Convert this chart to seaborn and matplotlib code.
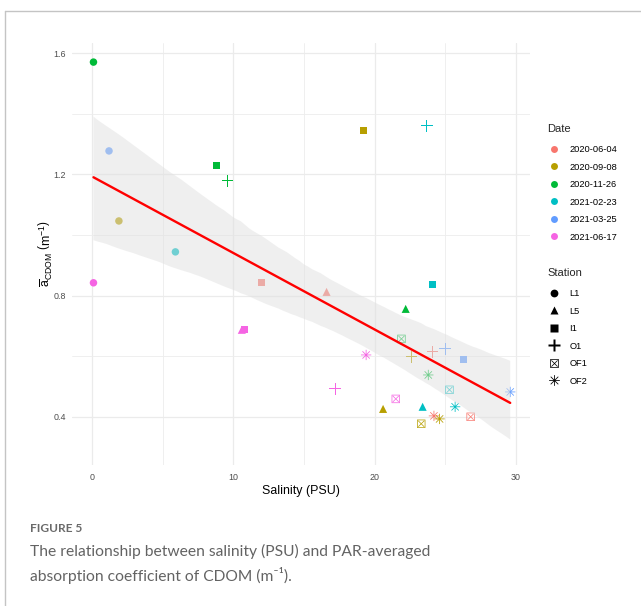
import numpy as np
import pandas as pd
import matplotlib
matplotlib.use("Agg")
import matplotlib.pyplot as plt
from matplotlib.path import Path
from matplotlib.markers import MarkerStyle
from matplotlib.transforms import Affine2D
from matplotlib.lines import Line2D
import seaborn as sns

# ---------------- data ----------------
dates = ["2020-06-04", "2020-09-08", "2020-11-26", "2021-02-23", "2021-03-25", "2021-06-17"]
date_colors = ["#F8766D", "#B79F00", "#00BA38", "#00BFC4", "#619CFF", "#F564E3"]
stations = ["L1", "L5", "I1", "O1", "OF1", "OF2"]

point_station = (["L1"] * 5 + ["I1"] * 6 + ["L5"] * 5 + ["O1"] * 6 + ["OF1"] * 5 + ["OF2"] * 6)
point_date = [
    # L1
    "2020-11-26", "2021-03-25", "2020-09-08", "2021-02-23", "2021-06-17",
    # I1
    "2020-11-26", "2020-09-08", "2021-02-23", "2020-06-04", "2021-03-25", "2021-06-17",
    # L5
    "2020-06-04", "2020-11-26", "2020-09-08", "2021-02-23", "2021-06-17",
    # O1
    "2020-11-26", "2021-02-23", "2020-06-04", "2021-03-25", "2020-09-08", "2021-06-17",
    # OF1
    "2020-11-26", "2021-02-23", "2021-06-17", "2020-09-08", "2020-06-04",
    # OF2
    "2021-06-17", "2020-11-26", "2021-03-25", "2021-02-23", "2020-06-04", "2020-09-08",
]
salinity = [
    0.1, 1.2, 1.9, 5.9, 0.1,
    8.8, 19.2, 24.1, 12.0, 26.3, 10.8,
    16.6, 22.2, 20.6, 23.4, 10.6,
    9.6, 23.7, 24.1, 25.0, 22.6, 17.2,
    21.9, 25.3, 21.5, 23.3, 26.8,
    19.4, 23.8, 29.6, 25.7, 24.2, 24.6,
]
acdom = [
    1.570, 1.277, 1.046, 0.944, 0.842,
    1.230, 1.343, 0.835, 0.842, 0.588, 0.687,
    0.812, 0.756, 0.426, 0.433, 0.687,
    1.178, 1.360, 0.614, 0.624, 0.598, 0.492,
    0.657, 0.489, 0.459, 0.377, 0.400,
    0.604, 0.538, 0.482, 0.433, 0.403, 0.393,
]

x_ticks = [0, 10, 20, 30]
y_ticks = [0.4, 0.8, 1.2, 1.6]

df = pd.DataFrame({"Salinity": salinity, "aCDOM": acdom,
                   "Date": point_date, "Station": point_station})

# ---------------- custom marker paths ----------------
def star_path(n, R, h, rot):
    verts = []
    step = 2 * np.pi / n
    r_in = h / np.sin(step / 2)
    for k in range(n):
        th = rot + k * step
        u = np.array([np.cos(th), np.sin(th)])
        nrm = np.array([-np.sin(th), np.cos(th)])
        verts.append(R * u - h * nrm)
        verts.append(R * u + h * nrm)
        tb = th + step / 2
        verts.append(r_in * np.array([np.cos(tb), np.sin(tb)]))
    return verts


def closed(verts):
    v = list(verts) + [verts[0]]
    codes = [Path.MOVETO] + [Path.LINETO] * (len(verts) - 1) + [Path.CLOSEPOLY]
    return v, codes


def plus_path(w=0.1):
    v = [(1, -w), (1, w), (w, w), (w, 1), (-w, 1), (-w, w), (-1, w), (-1, -w),
         (-w, -w), (-w, -1), (w, -1), (w, -w)]
    vv, cc = closed(v)
    return Path(vv, cc)


def asterisk_path(h=0.075):
    vv, cc = closed(star_path(8, 1.0, h, 0.0))
    return Path(vv, cc)


def boxed_x_path(t=0.17, h=0.085):
    outer = [(-1, -1), (1, -1), (1, 1), (-1, 1)]
    a = 1 - t
    inner = [(-a, -a), (-a, a), (a, a), (a, -a)]
    xs = star_path(4, 1.0, h, np.pi / 4)
    V, C = [], []
    for part in (outer, inner, xs):
        vv, cc = closed(part)
        V += [tuple(p) for p in vv]
        C += cc
    return Path(V, C)


def ms(marker, scale):
    return MarkerStyle(marker, transform=Affine2D().scale(scale))


marker_styles = [
    ms("o", 1.0),
    ms("^", 1.08),
    ms("s", 0.92),
    ms(plus_path(0.09), 1.55),
    ms(boxed_x_path(), 1.12),
    ms(asterisk_path(), 1.38),
]

# ---------------- figure ----------------
W, H = 641, 606
sns.set_style("white")
plt.rcParams["font.family"] = ["Liberation Sans", "DejaVu Sans"]
plt.rcParams["mathtext.fontset"] = "custom"
plt.rcParams["mathtext.rm"] = "Liberation Sans"
plt.rcParams["mathtext.it"] = "Liberation Sans:italic"
plt.rcParams["mathtext.bf"] = "Liberation Sans:bold"

fig = plt.figure(figsize=(W / 100, H / 100), dpi=100)
fig.patch.set_facecolor("white")

ax_l, ax_r, ax_t, ax_b = 72, 530, 43, 465
ax = fig.add_axes([ax_l / W, 1 - ax_b / H, (ax_r - ax_l) / W, (ax_b - ax_t) / H])
ax.set_facecolor("white")

sns.scatterplot(data=df, x="Salinity", y="aCDOM", hue="Date", style="Station",
                hue_order=dates, style_order=stations,
                palette=dict(zip(dates, date_colors)),
                markers=dict(zip(stations, marker_styles)),
                s=29, linewidth=0, legend=False, ax=ax, zorder=2)

sns.regplot(x=np.array(salinity), y=np.array(acdom), scatter=False, ci=95,
            n_boot=1000, seed=3, color="red", truncate=True,
            line_kws=dict(lw=1.7, zorder=4), ax=ax)

band = ax.collections[-1]
band.set_facecolor((224 / 255, 224 / 255, 224 / 255))
band.set_alpha(0.5)
band.set_edgecolor("none")
band.set_zorder(3)
ax.lines[-1].set_zorder(4)

ax.set_xlim(-1.42, 31.0)
ax.set_ylim(0.241, 1.633)
ax.set_xticks(x_ticks)
ax.set_xticklabels([str(t) for t in x_ticks])
ax.set_yticks(y_ticks)
ax.set_yticklabels([f"{t:.1f}" for t in y_ticks])
ax.set_xticks([5, 15, 25], minor=True)
ax.set_yticks([0.6, 1.0, 1.4], minor=True)
ax.set_axisbelow(True)
ax.grid(which="major", color="#ebebeb", lw=0.9)
ax.grid(which="minor", color="#ededed", lw=0.6)
for sp in ax.spines.values():
    sp.set_visible(False)
ax.tick_params(which="both", length=0, labelsize=6.4, labelcolor="#4d4d4d")
ax.tick_params(axis="x", pad=6)
ax.tick_params(axis="y", pad=4.5)

ax.set_xlabel("Salinity (PSU)", fontsize=8.9, color="black")
ax.xaxis.set_label_coords(0.5, -(491 - ax_b) / (ax_b - ax_t))
ax.xaxis.label.set_verticalalignment("center")
ax.set_ylabel(r"$\overline{\mathrm{a}}_{\mathrm{CDOM}}\ \left(\mathrm{m}^{-1}\right)$",
              fontsize=8.9, color="black")
ax.yaxis.set_label_coords(-(ax_l - 46) / (ax_r - ax_l), 0.5)
ax.yaxis.label.set_verticalalignment("center")

# ---------------- legends ----------------
date_handles = [Line2D([], [], ls="none", marker="o", ms=5.0, mfc=c, mec="none")
                for c in date_colors]
station_handles = [Line2D([], [], ls="none", marker=m, ms=5.6, mfc="black",
                          mec="none", color="black") for m in marker_styles]

leg_kw = dict(loc="upper left", frameon=False, fontsize=6.7, title_fontsize=8,
              alignment="left", handlelength=1.6, handletextpad=0.8,
              labelspacing=0.91, borderpad=0, borderaxespad=0)
leg1 = fig.legend(date_handles, dates, title="Date",
                  bbox_to_anchor=(547 / W, 1 - 124 / H), **leg_kw)
leg2 = fig.legend(station_handles, stations, title="Station",
                  bbox_to_anchor=(547 / W, 1 - 268 / H), **leg_kw)
for lg in (leg1, leg2):
    lg._legend_box.sep = 8.1
    for t in lg.get_texts():
        t.set_color("black")
    for h in lg.legend_handles:
        h.set_snap(False)

# ---------------- frame lines ----------------
fig.add_artist(Line2D([4.5 / W, 4.5 / W], [0, 1 - 10.5 / H], transform=fig.transFigure,
                      color="#c4c4c4", lw=1.0))
fig.add_artist(Line2D([4.5 / W, 1], [1 - 10.5 / H, 1 - 10.5 / H], transform=fig.transFigure,
                      color="#c4c4c4", lw=1.0))

# ---------------- caption ----------------
cap_fam = ["Lato", "DejaVu Sans"]
r = fig.canvas.get_renderer()
t0 = fig.text(30 / W, 1 - 529 / H, "FIGURE 5", family=cap_fam, fontsize=10,
              color="#6a6a6a", va="center", ha="left", weight="bold")
w0 = t0.get_window_extent(r).width
t0.set_fontsize(10 * 52 / w0)

t1 = fig.text(30 / W, 1 - 551 / H,
              "The relationship between salinity (PSU) and PAR-averaged",
              family=cap_fam, fontsize=13, color="#636363", va="center", ha="left")
w1 = t1.get_window_extent(r).width
fs = 13 * 400 / w1
t1.set_fontsize(fs)
t2 = fig.text(30 / W, 1 - 575 / H, "absorption coefficient of CDOM (m\u207b\u00b9).",
              family=cap_fam, fontsize=fs, color="#636363", va="center", ha="left")

fig.savefig("out.png", dpi=100)
